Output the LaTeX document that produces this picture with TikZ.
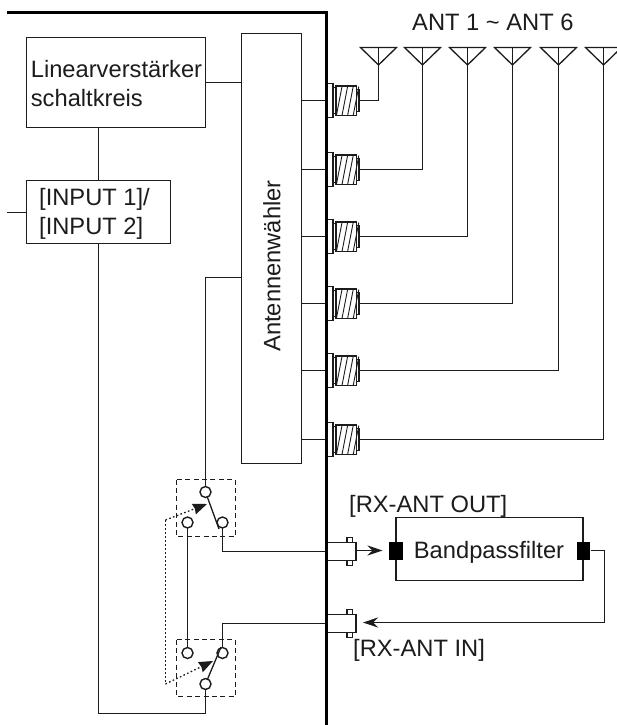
\documentclass[tikz,border=0pt]{standalone}
\usepackage{fontspec}
\setmainfont{Liberation Sans}
\usetikzlibrary{arrows.meta,calc}
\newcommand{\lbl}[3]{\hspace*{#1}\raisebox{#2}[0pt][0pt]{\begin{tabular}{@{}l@{}}#3\end{tabular}}}
\definecolor{ink}{HTML}{1C1C1C}
\tikzset{
  x=1pt,y=-1pt,
  every node/.style={font=\fontsize{23.7}{29}\selectfont,text=ink},
  wire/.style={draw=ink,line width=1.3pt},
  wall/.style={draw=black,line width=2.2pt},
  blockbox/.style={draw=ink,line width=1.3pt,fill=white,inner sep=0pt,outer sep=0pt},
  port/.style={circle,draw=ink,line width=1.4pt,fill=white,minimum size=11pt,inner sep=0pt,outer sep=0pt},
  swbox/.style={draw=ink,line width=1.3pt,dash pattern=on 5pt off 3.4pt},
  ctl/.style={draw=ink,line width=1.3pt,dash pattern=on 1.6pt off 2.4pt},
  head/.style={-{Stealth[length=15pt,width=10pt,inset=5pt]}},
  swhead/.style={-{Stealth[length=14pt,width=11pt,inset=1pt]}},
  pad/.style={draw=none,fill=black,inner sep=0pt,minimum width=13.5pt,minimum height=18.5pt},
  aerial/.pic={
    \draw[draw=ink,line width=1.3pt,line join=miter] (-18,-17.5) -- (18,-17.5) -- (0,0) -- cycle;
    \draw[draw=ink,line width=1.3pt] (0,-17.5) -- (0,0);
    \coordinate (-tip) at (0,0);
  },
  threaded/.pic={
    \draw[draw=ink,line width=1.1pt,fill=white] (30,-11) rectangle (33,11);
    \draw[draw=ink,line width=1.1pt,fill=white] (7,-13) rectangle (10,13);
    \draw[draw=ink,line width=1.2pt,fill=white] (10,-14.5) rectangle (30.5,15);
    \foreach \i in {0,1,2,3}{
      \draw[draw=ink,line width=0.9pt] (10.5+5.6*\i,14.5) -- (16+5.6*\i,-14);
    }
    \node[blockbox,minimum width=7pt,minimum height=34pt,anchor=west] (-flange) at (0,0) {};
    \coordinate (-cap) at (33,0);
  },
  bnc/.pic={
    \draw[draw=ink,line width=1.1pt,fill=white] (21,-14) rectangle (26.5,-9);
    \draw[draw=ink,line width=1.1pt,fill=white] (21,9) rectangle (26.5,14);
    \node[blockbox,minimum width=30pt,minimum height=18pt,anchor=west] (-body) at (0,0) {};
  },
}
\begin{document}
\begin{tikzpicture}
\clip (0,0) rectangle (617,725);
\fill[white] (0,0) rectangle (617,725);

% named points
\coordinate (wallstart) at (7,12.5);
\coordinate (wallcorner) at (326.5,12.5);
\coordinate (wallend) at (326.5,726);
\coordinate (inputfree) at (7,212.5);

% blocks
\node[blockbox,minimum width=179pt,minimum height=90pt] (lin) at (116,82.5)
  {\lbl{1pt}{-10pt}{Linearverstärker\\schaltkreis}};
\node[blockbox,minimum width=144pt,minimum height=63pt] (inp) at (98.5,212)
  {\lbl{-8pt}{-8.5pt}{[INPUT 1]/\\{}[INPUT 2]}};
\node[blockbox,minimum width=60pt,minimum height=430pt] (sel) at (271.5,248.5) {};
\node[rotate=90,inner sep=0pt] (seltext) at (272,266) {Antennenwähler};

% antennas
\pic (a1) at (378.5,65) {aerial};
\pic (a2) at (422.5,65) {aerial};
\pic (a3) at (467.5,65) {aerial};
\pic (a4) at (512.5,65) {aerial};
\pic (a5) at (558.5,65) {aerial};
\pic (a6) at (603.5,65) {aerial};
\node[anchor=base west,inner sep=0pt] (anttext) at (412,31) {ANT 1 \char`\~{} ANT 6};

% antenna connectors
\pic (c1) at (326,100.5) {threaded};
\pic (c2) at (326,169.5) {threaded};
\pic (c3) at (326,236.5) {threaded};
\pic (c4) at (326,303.5) {threaded};
\pic (c5) at (326,370.5) {threaded};
\pic (c6) at (326,439.5) {threaded};

\foreach \n in {1,...,6}{
  \draw[wire] (c\n-cap) -| (a\n-tip);
  \draw[wire] (sel.east |- c\n-flange.west) -- (c\n-flange.west);
}

\draw[wire] (lin.east |- 0,82.5) -- (sel.west |- 0,82.5);
\draw[wire] (lin.south -| inp.north) -- (inp.north);
\draw[wire] (inputfree) -- (inp.west |- inputfree);

% switches
\node[port] (ut) at (205.5,492) {};
\node[port] (ul) at (187.5,522.5) {};
\node[port] (ur) at (222.5,522.5) {};
\node[port] (lb) at (205.5,684) {};
\node[port] (ll) at (187.5,653) {};
\node[port] (lr) at (222.5,653) {};
\draw[swbox] (176.5,479.5) rectangle (235.5,536.5);
\draw[swbox] (176.5,639.5) rectangle (235.5,696.5);

\coordinate (uleverend) at (219,529);
\coordinate (lleverend) at (221,647);
\draw[wire] (ut) -- (uleverend);
\draw[wire] (lb) -- (lleverend);

\coordinate (uarrow) at (207,504);
\coordinate (larrow) at (213,661);
\coordinate (ctlu) at (165.5,520);
\coordinate (ctll) at (165.5,684);
\draw[ctl] (ctlu) -- (ctll);
\draw[ctl,swhead] (ctlu) -- (uarrow);
\draw[ctl,swhead] (ctll) -- (larrow);

% rear connectors and filter
\pic (rxo) at (326,551.5) {bnc};
\pic (rxi) at (326,623.5) {bnc};
\node[blockbox,minimum width=187pt,minimum height=63pt] (bpf) at (489.5,549)
  {\hspace*{-1pt}\raisebox{-9pt}[0pt][0pt]{Bandpassfilter}};
\node[pad] (pl) at (396,551) {};
\node[pad] (pr) at (583.7,551) {};
\node[anchor=base west,inner sep=0pt] (rxotext) at (349,512) {[RX-ANT OUT]};
\node[anchor=base west,inner sep=0pt] (rxitext) at (353,656) {[RX-ANT IN]};

\coordinate (rightcorner) at (604.5,622.5);
\coordinate (rxotip) at (382.5,550.5);
\coordinate (rxitip) at (363,622.5);
\draw[wire,head] (rxo-body.east |- rxotip) -- (rxotip);
\draw[wire,head] (pr.east |- 0,550.5) -| (rightcorner) -- (rxitip);

% wiring
\draw[wire] (ut) |- (sel.west |- 0,277.5);
\draw[wire] (ur) |- (rxo-body.west);
\draw[wire] (ul) -- (ll);
\draw[wire] (lr) |- (rxi-body.west);
\draw[wire] (inp.south) |- (lb |- 0,713.5) -- (lb);

% chassis
\draw[wall,line join=miter] (wallstart) -- (wallcorner) -- (wallend);
\end{tikzpicture}
\end{document}
